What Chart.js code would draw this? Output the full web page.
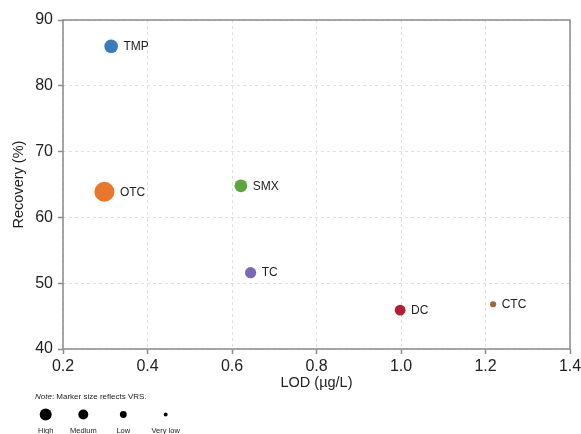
<!DOCTYPE html>
<html>
<head>
<meta charset="utf-8">
<script src="https://cdn.jsdelivr.net/npm/chart.js@4/dist/chart.umd.min.js"></script>
<style>
  html, body { margin: 0; padding: 0; background: #fff; }
  #wrap { width: 581px; height: 434px; position: relative; }
</style>
</head>
<body>
<div id="wrap"><canvas id="c" width="581" height="434"></canvas></div>
<script>
// Antibiotic method performance: detection limit vs. recovery
const compounds = ['TMP', 'OTC', 'SMX', 'TC', 'DC', 'CTC'];
const lod       = [0.314, 0.298, 0.621, 0.644, 0.998, 1.218];   // µg/L
const recovery  = [86.0, 63.9, 64.8, 51.6, 45.9, 46.8];          // %
const vrsLevel  = ['Medium', 'High', 'Medium', 'Low', 'Low', 'Very low'];

const xTicks = [0.2, 0.4, 0.6, 0.8, 1.0, 1.2, 1.4];
const yTicks = [40, 50, 60, 70, 80, 90];
const vrsLegend = ['High', 'Medium', 'Low', 'Very low'];

// Styling
const colors = ['#3b7bbd', '#e8762d', '#5ca53f', '#7c68b7', '#b01f36', '#a0693b'];
const pointRadii = [6.8, 10, 6.4, 5.6, 5.4, 3.1];
const legendRadii = { 'High': 6, 'Medium': 5, 'Low': 3.4, 'Very low': 1.9 };
const FONT = '"Liberation Sans", Arial, Helvetica, sans-serif';
const AXIS = '#8a8a8a';
const GRID = '#e0e0e0';

const data = {
  datasets: [{
    data: compounds.map((c, i) => ({ x: lod[i], y: recovery[i] })),
    pointBackgroundColor: colors,
    pointBorderColor: colors,
    pointBorderWidth: 0,
    pointRadius: pointRadii,
    pointHoverRadius: pointRadii,
    showLine: false
  }]
};

// Frame around the plotting area
const frame = {
  id: 'frame',
  afterDatasetsDraw(chart) {
    const { ctx, chartArea: a } = chart;
    ctx.save();
    ctx.strokeStyle = AXIS;
    ctx.lineWidth = 1.5;
    ctx.strokeRect(a.left, a.top, a.right - a.left, a.bottom - a.top);
    ctx.restore();
  }
};

// Compound names to the right of each marker
const pointLabels = {
  id: 'pointLabels',
  afterDatasetsDraw(chart) {
    const { ctx } = chart;
    const meta = chart.getDatasetMeta(0);
    ctx.save();
    ctx.font = '12px ' + FONT;
    ctx.fillStyle = '#222';
    ctx.textAlign = 'left';
    ctx.textBaseline = 'middle';
    meta.data.forEach((pt, i) => {
      ctx.fillText(compounds[i], pt.x + pointRadii[i] + 5.5, pt.y + 0.5);
    });
    ctx.restore();
  }
};

// Size key under the axis
const sizeKey = {
  id: 'sizeKey',
  afterDraw(chart) {
    const { ctx } = chart;
    ctx.save();
    ctx.fillStyle = '#222';
    ctx.textBaseline = 'middle';
    ctx.textAlign = 'left';
    ctx.font = 'italic 8px ' + FONT;
    ctx.fillText('Note', 35, 397);
    const w = ctx.measureText('Note').width;
    ctx.font = '8px ' + FONT;
    ctx.fillText(': Marker size reflects VRS.', 35 + w, 397);

    const xs = [45.7, 83.3, 123.3, 165.7];
    vrsLegend.forEach((lvl, i) => {
      ctx.beginPath();
      ctx.arc(xs[i], 414.5, legendRadii[lvl], 0, Math.PI * 2);
      ctx.fillStyle = '#000';
      ctx.fill();
      ctx.fillStyle = '#222';
      ctx.font = '7.5px ' + FONT;
      ctx.textAlign = 'center';
      ctx.fillText(lvl, xs[i], 431);
    });
    ctx.restore();
  }
};

const white = {
  id: 'white',
  beforeDraw(chart) {
    const { ctx } = chart;
    ctx.save();
    ctx.fillStyle = '#fff';
    ctx.fillRect(0, 0, chart.width, chart.height);
    ctx.restore();
  }
};

const gridOpts = {
  color: GRID,
  lineWidth: 1,
  tickLength: 5,
  tickColor: AXIS,
  tickWidth: 1.5,
  tickBorderDash: []
};

new Chart(document.getElementById('c'), {
  type: 'scatter',
  data,
  plugins: [white, frame, pointLabels, sizeKey],
  options: {
    responsive: false,
    animation: false,
    devicePixelRatio: 1,
    layout: { padding: { top: 20, right: 11, left: 0, bottom: 0 } },
    plugins: { legend: { display: false }, tooltip: { enabled: false } },
    scales: {
      x: {
        type: 'linear',
        min: xTicks[0],
        max: xTicks[xTicks.length - 1],
        afterFit(s) { s.height = 85; s.paddingLeft = 0; s.paddingRight = 0; },
        afterBuildTicks(s) { s.ticks = xTicks.map(v => ({ value: v })); },
        border: { display: false, dash: [3, 3] },
        grid: gridOpts,
        ticks: {
          padding: 3,
          color: '#222',
          font: { family: FONT, size: 16 },
          callback: v => Number(v).toFixed(1)
        },
        title: {
          display: true,
          text: 'LOD (µg/L)',
          color: '#222',
          font: { family: FONT, size: 14.5 },
          padding: { top: 0, bottom: 42 }
        }
      },
      y: {
        type: 'linear',
        min: yTicks[0],
        max: yTicks[yTicks.length - 1],
        afterFit(s) { s.width = 63; s.paddingTop = 0; s.paddingBottom = 0; },
        afterBuildTicks(s) { s.ticks = yTicks.map(v => ({ value: v })); },
        border: { display: false, dash: [3, 3] },
        grid: gridOpts,
        ticks: {
          padding: 5,
          color: '#222',
          font: { family: FONT, size: 16 }
        },
        title: {
          display: true,
          text: 'Recovery (%)',
          color: '#222',
          font: { family: FONT, size: 14.5 },
          padding: { top: 10, bottom: 0 }
        }
      }
    }
  }
});
</script>
</body>
</html>
